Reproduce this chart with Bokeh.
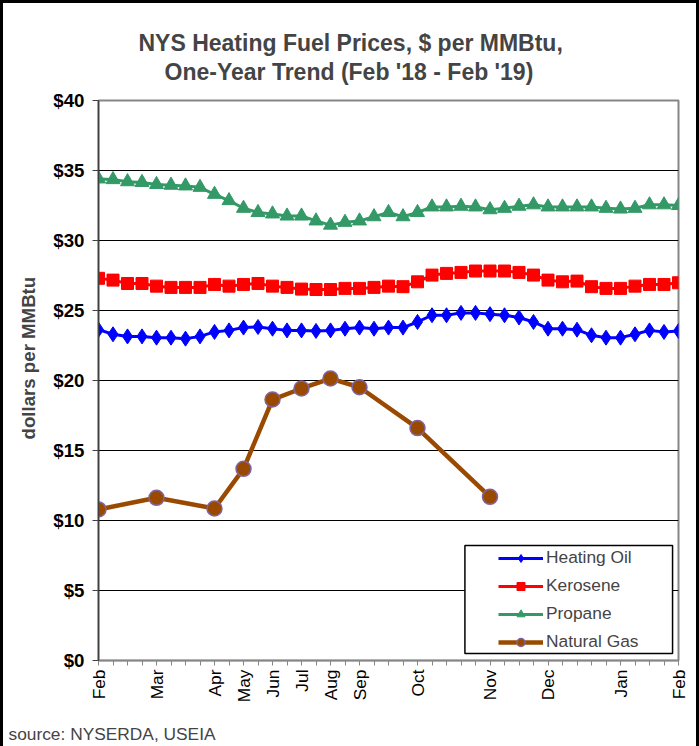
import math
from bokeh.plotting import figure
from bokeh.models import (ColumnDataSource, FixedTicker, Range1d, Title, Legend,
                          LegendItem, BoxAnnotation)
from bokeh.embed import file_html
from bokeh.resources import INLINE

# ---- data (weekly survey points, Feb 2018 - Feb 2019) ----
week_labels = ["Feb", "", "", "", "Mar", "", "", "", "Apr", "", "May", "", "Jun", "",
               "Jul", "", "Aug", "", "Sep", "", "", "", "Oct", "", "", "", "", "Nov",
               "", "", "", "Dec", "", "", "", "", "Jan", "", "", "", "Feb"]

heating_oil = [23.63, 23.30, 23.15, 23.15, 23.06, 23.06, 22.99, 23.15, 23.47, 23.58,
               23.78, 23.82, 23.70, 23.58, 23.58, 23.54, 23.58, 23.70, 23.78, 23.70,
               23.78, 23.78, 24.18, 24.66, 24.66, 24.83, 24.83, 24.74, 24.66, 24.50,
               24.18, 23.70, 23.70, 23.63, 23.23, 23.06, 23.06, 23.30, 23.58, 23.47,
               23.54]

kerosene = [27.30, 27.17, 26.93, 26.93, 26.74, 26.65, 26.65, 26.65, 26.86, 26.74,
            26.86, 26.93, 26.74, 26.65, 26.53, 26.50, 26.50, 26.58, 26.58, 26.65,
            26.74, 26.70, 27.05, 27.53, 27.65, 27.72, 27.82, 27.82, 27.82, 27.72,
            27.53, 27.17, 27.05, 27.10, 26.70, 26.58, 26.58, 26.74, 26.86, 26.86,
            26.98]

propane = [34.40, 34.35, 34.20, 34.15, 34.00, 33.95, 33.90, 33.80, 33.30, 32.85,
           32.30, 32.00, 31.90, 31.75, 31.75, 31.40, 31.10, 31.30, 31.40, 31.70,
           32.00, 31.70, 32.00, 32.40, 32.40, 32.45, 32.40, 32.20, 32.30, 32.45,
           32.55, 32.40, 32.40, 32.40, 32.40, 32.30, 32.25, 32.30, 32.55, 32.55,
           32.50]

natural_gas = [10.79, None, None, None, 11.62, None, None, None, 10.86, None,
               13.69, None, 18.64, None, 19.43, None, 20.14, None, 19.52, None,
               None, None, 16.60, None, None, None, None, 11.69, None, None,
               None, None, None, None, None, None, None, None, None, None,
               None]

y_ticks = [0, 5, 10, 15, 20, 25, 30, 35, 40]
y_tick_labels = ["$0", "$5", "$10", "$15", "$20", "$25", "$30", "$35", "$40"]

# ---- sources ----
idx = list(range(len(week_labels)))
src = ColumnDataSource(dict(x=idx, oil=heating_oil, ker=kerosene, pro=propane))
gas_x = [i for i, v in zip(idx, natural_gas) if v is not None]
gas_y = [v for v in natural_gas if v is not None]
gsrc = ColumnDataSource(dict(x=gas_x, y=gas_y))

FONT = "Liberation Sans"

p = figure(width=699, height=746, output_backend="svg", toolbar_location=None,
           x_range=Range1d(0, len(idx) - 1), y_range=Range1d(0, 40),
           min_border_left=94, min_border_right=24, min_border_top=97,
           min_border_bottom=89, background_fill_color="white",
           border_fill_color="white")

# titles (p.title is outermost)
p.title.text = "NYS Heating Fuel Prices, $ per MMBtu,"
p.title.align = "left"
p.title.offset = 40
p.title.text_font = FONT
p.title.text_font_size = "23px"
p.title.text_font_style = "bold"
p.title.standoff = -28
t2 = Title(text="One-Year Trend (Feb '18 - Feb '19)", align="left", offset=66,
           text_font=FONT, text_font_size="23px", text_font_style="bold",
           standoff=31)
p.add_layout(t2, "above")

ylab = Title(text="dollars per MMBtu", align="left", offset=221, text_font=FONT,
             text_font_size="14pt", text_font_style="bold", standoff=24)
p.add_layout(ylab, "left")

src_note = Title(text="source: NYSERDA,  USEIA", align="left", offset=-90,
                 text_font=FONT, text_font_size="13pt", text_font_style="normal",
                 standoff=0)
p.add_layout(src_note, "below")

# axes
p.xaxis.ticker = FixedTicker(ticks=idx)
p.xaxis.major_label_overrides = {i: lab for i, lab in enumerate(week_labels)}
p.xaxis.major_label_orientation = math.pi / 2
p.xaxis.major_label_text_font = FONT
p.xaxis.major_label_text_font_size = "13pt"
p.xaxis.major_label_text_color = "black"
p.xaxis.major_label_standoff = 4
p.xaxis.major_tick_out = 5
p.xaxis.major_tick_in = 0
p.xaxis.minor_tick_line_color = None
p.xaxis.axis_line_color = "#868686"
p.xaxis.major_tick_line_color = "#868686"
p.xaxis.axis_line_width = 1.5
# blank spacer label to push the source note down
p.xaxis.axis_label = " "
p.xaxis.axis_label_text_font_size = "2px"
p.xaxis.axis_label_standoff = 11

p.yaxis.ticker = FixedTicker(ticks=y_ticks)
p.yaxis.major_label_overrides = {t: l for t, l in zip(y_ticks, y_tick_labels)}
p.yaxis.major_label_text_font = FONT
p.yaxis.major_label_text_font_size = "14pt"
p.yaxis.major_label_text_font_style = "bold"
p.yaxis.major_label_text_color = "black"
p.yaxis.major_label_standoff = 8
p.yaxis.major_tick_out = 6
p.yaxis.major_tick_in = 0
p.yaxis.minor_tick_line_color = None
p.yaxis.axis_line_color = "#404040"
p.yaxis.major_tick_line_color = "#404040"
p.yaxis.axis_line_width = 1.5

p.xgrid.visible = False
p.ygrid.ticker = FixedTicker(ticks=y_ticks)
p.ygrid.grid_line_color = "black"
p.ygrid.grid_line_width = 1
p.outline_line_color = "#868686"
p.outline_line_width = 2

p.styles = {"border": "3px solid black", "border-bottom": "none",
            "box-sizing": "border-box"}

# series
l1 = p.line("x", "oil", source=src, line_color="#0000FF", line_width=3)
s1 = p.scatter("x", "oil", source=src, marker="diamond", size=15,
               fill_color="#0000FF", line_color="#0000FF")
l2 = p.line("x", "ker", source=src, line_color="#FF0000", line_width=3)
s2 = p.scatter("x", "ker", source=src, marker="square", size=12,
               fill_color="#FF0000", line_color="#FF0000")
l3 = p.line("x", "pro", source=src, line_color="#339966", line_width=3)
s3 = p.scatter("x", "pro", source=src, marker="triangle", size=14,
               fill_color="#339966", line_color="#339966")
l4 = p.line("x", "y", source=gsrc, line_color="#9A4A00", line_width=4.5)
s4 = p.scatter("x", "y", source=gsrc, marker="circle", size=15,
               fill_color="#9A4A00", line_color="#8064A2", line_width=1.5)

# legend box + legend
box = BoxAnnotation(left=25.27, right=39.59, top=8.21, bottom=0.5,
                    fill_color="white", fill_alpha=1.0,
                    line_color="black", line_width=1.5, line_alpha=1.0)
p.add_layout(box)

legend = Legend(items=[LegendItem(label="Heating Oil", renderers=[l1, s1]),
                       LegendItem(label="Kerosene", renderers=[l2, s2]),
                       LegendItem(label="Propane", renderers=[l3, s3]),
                       LegendItem(label="Natural Gas", renderers=[l4, s4])],
                location=(400, 8), padding=0, margin=0, spacing=7,
                glyph_width=45, glyph_height=20, label_height=20,
                label_standoff=3, label_text_font=FONT,
                label_text_font_size="13pt", border_line_alpha=0,
                background_fill_alpha=0)
p.add_layout(legend)

open("out.html", "w").write(file_html(p, INLINE))
